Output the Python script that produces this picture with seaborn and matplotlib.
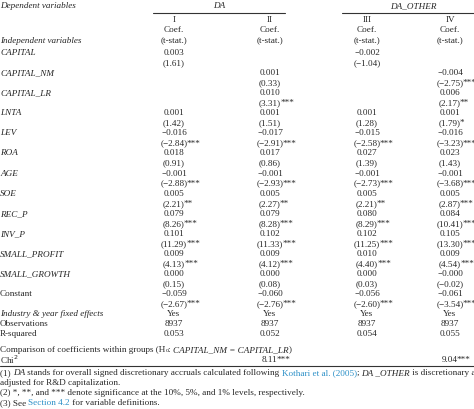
import matplotlib
matplotlib.use("Agg")
import matplotlib.pyplot as plt
import seaborn as sns

sns.set_theme(style="white")
plt.rcParams['font.family'] = ['Liberation Serif', 'DejaVu Serif']

variables = ["CAPITAL", "CAPITAL_NM", "CAPITAL_LR", "LNTA", "LEV", "ROA", "AGE", "SOE",
             "REC_P", "INV_P", "SMALL_PROFIT", "SMALL_GROWTH", "Constant"]
coef_I   = ["0.003", "", "", "0.001", "\u22120.016", "0.018", "\u22120.001", "0.005", "0.079", "0.101", "0.009", "0.000", "\u22120.059"]
t_I      = ["(1.61)", "", "", "(1.42)", "(\u22122.84)***", "(0.91)", "(\u22122.88)***", "(2.21)**", "(8.26)***", "(11.29)***", "(4.13)***", "(0.15)", "(\u22122.67)***"]
coef_II  = ["", "0.001", "0.010", "0.001", "\u22120.017", "0.017", "\u22120.001", "0.005", "0.079", "0.102", "0.009", "0.000", "\u22120.060"]
t_II     = ["", "(0.33)", "(3.31)***", "(1.51)", "(\u22122.91)***", "(0.86)", "(\u22122.93)***", "(2.27)**", "(8.28)***", "(11.33)***", "(4.12)***", "(0.08)", "(\u22122.76)***"]
coef_III = ["\u22120.002", "", "", "0.001", "\u22120.015", "0.027", "\u22120.001", "0.005", "0.080", "0.102", "0.010", "0.000", "\u22120.056"]
t_III    = ["(\u22121.04)", "", "", "(1.28)", "(\u22122.58)***", "(1.39)", "(\u22122.73)***", "(2.21)**", "(8.29)***", "(11.25)***", "(4.40)***", "(0.03)", "(\u22122.60)***"]
coef_IV  = ["", "\u22120.004", "0.006", "0.001", "\u22120.016", "0.023", "\u22120.001", "0.005", "0.084", "0.105", "0.009", "\u22120.000", "\u22120.061"]
t_IV     = ["", "(\u22122.75)***", "(2.17)**", "(1.79)*", "(\u22123.23)***", "(1.43)", "(\u22123.68)***", "(2.87)***", "(10.41)***", "(13.30)***", "(4.54)***", "(\u22120.02)", "(\u22123.54)***"]
col_names = ["I", "II", "III", "IV"]
fixed = ["Yes", "Yes", "Yes", "Yes"]
observations = ["8937", "8937", "8937", "8937"]
rsquared = ["0.053", "0.052", "0.054", "0.055"]
chi2 = ["", "8.11***", "", "9.04***"]

W, H = 474, 409
fig = plt.figure(figsize=(W/100, H/100), dpi=100)
fig.patch.set_facecolor("white")
FS = 6.6
renderer = fig.canvas.get_renderer()

def T(x, y, s, ha="left", **kw):
    kw.setdefault("fontsize", FS)
    return fig.text(x/W, 1 - y/H, s, ha=ha, va="center", **kw)

def width(t):
    return t.get_window_extent(renderer).width

def cell(x, y, s):
    if not s:
        return
    base = s.rstrip("*")
    stars = s[len(base):]
    t = T(x, y, base, ha="center")
    if stars:
        T(x + width(t)/2 - 1.0, y, stars)

def chain(x, y, parts):
    for s, kw in parts:
        t = T(x, y, s, **kw)
        x += width(t)

def hline(x0, x1, y, lw=0.8):
    fig.add_artist(plt.Line2D([x0/W, x1/W], [1-y/H, 1-y/H], color="#333333", lw=lw))

colx = [174, 270, 367, 450]
cols = [(coef_I, t_I), (coef_II, t_II), (coef_III, t_III), (coef_IV, t_IV)]

T(0, 6, "Dependent variables", style="italic")
T(219, 6, "DA", ha="center", style="italic")
T(413, 6, "DA_OTHER", ha="center", style="italic")
hline(153, 285, 13)
hline(342, 474, 13)
for i, x in enumerate(colx):
    T(x, 20, col_names[i], ha="center")
    T(x, 30, "Coef.", ha="center")
    T(x, 41, "(t-stat.)", ha="center")
T(0, 41, "Independent variables", style="italic")

y0, dy = 53, 10.05
for r, v in enumerate(variables):
    y = y0 + 2*r*dy
    T(0, y, v, style="normal" if v == "Constant" else "italic")
    for (c, t), x in zip(cols, colx):
        cell(x, y, c[r])
        cell(x, y + dy, t[r])
y = y0 + 2*len(variables)*dy
for label, vals, st in [("Industry & year fixed effects", fixed, "italic"),
                        ("Observations", observations, "normal"),
                        ("R-squared", rsquared, "normal")]:
    T(0, y, label, style=st)
    for x, s in zip(colx, vals):
        cell(x, y, s)
    y += dy

chain(0, 350, [("Comparison of coefficients within groups (H", {}),
               ("o", {"fontsize": 4.5}), (": ", {}),
               ("CAPITAL_NM = CAPITAL_LR", {"style": "italic"}), (")", {})])
T(0, 360, "Chi$^2$")
for x, s in zip(colx, chi2):
    cell(x, 360, s)
hline(0, 474, 366)
blue = "#2a8fc7"
chain(0, 373, [("(1) ", {}), ("DA", {"style": "italic"}),
               (" stands for overall signed discretionary accruals calculated following ", {}),
               ("Kothari et al. (2005)", {"color": blue}), ("; ", {}),
               ("DA _OTHER", {"style": "italic"}), (" is discretionary accruals", {})])
T(0, 383, "adjusted for R&D capitalization.")
T(0, 393, "(2) *, **, and *** denote significance at the 10%, 5%, and 1% levels, respectively.")
chain(0, 403, [("(3) See ", {}), ("Section 4.2", {"color": blue}), (" for variable definitions.", {})])

fig.savefig("out.png", dpi=100, facecolor="white")
